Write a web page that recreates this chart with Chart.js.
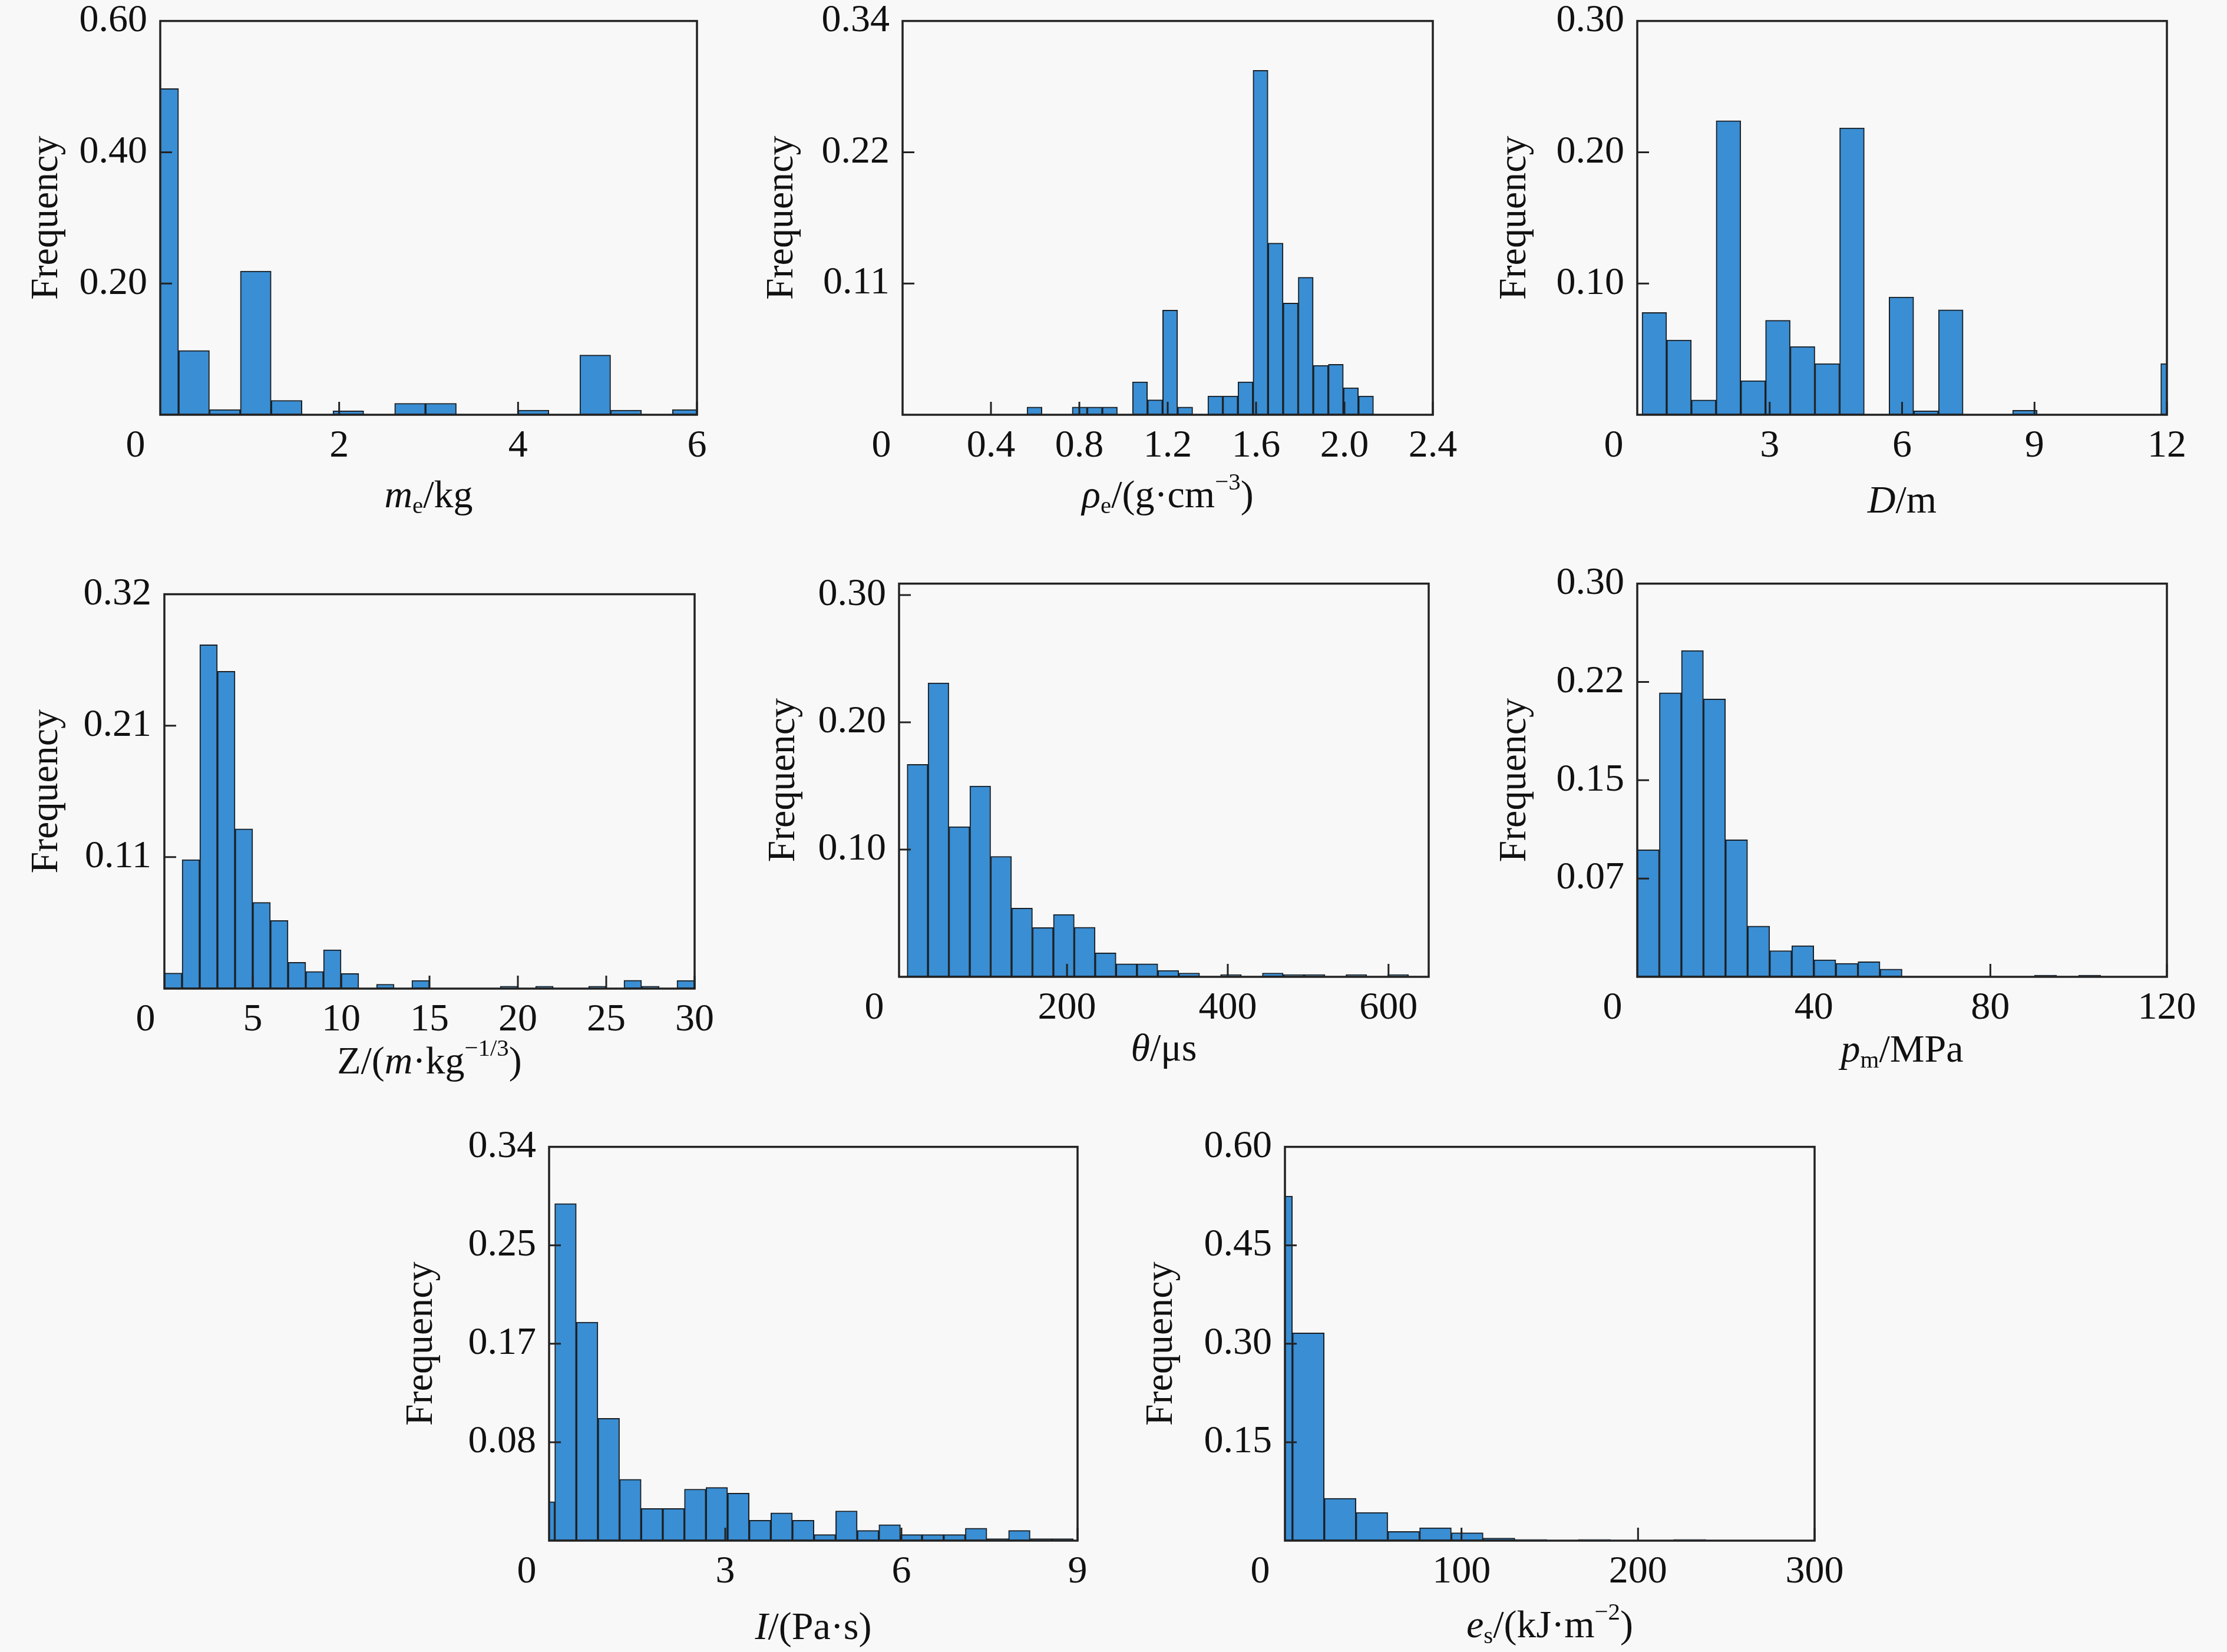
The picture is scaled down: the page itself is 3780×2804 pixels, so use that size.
<!DOCTYPE html>
<html>
<head>
<meta charset="utf-8">
<script src="https://cdn.jsdelivr.net/npm/chart.js@4.4.1/dist/chart.umd.min.js"></script>
<style>
  body { margin: 0; background: #f8f8f8; width: 3780px; height: 2804px; position: relative; overflow: hidden; }
  canvas { position: absolute; }
</style>
</head>
<body>
<script>
// ---- data ----

// m_e / kg
const massBinStart = -0.14, massBinWidth = 0.345;
const massFreq = [0.497, 0.098, 0.008, 0.219, 0.022, 0, 0.006, 0, 0.0175, 0.0175, 0, 0, 0.007, 0, 0.091, 0.007, 0, 0.008];
const massXTicks = [2, 4, 6];
const massXLabels = ['2', '4', '6'];
const massYTicks = [0.2, 0.4, 0.6];
const massYLabels = ['0.20', '0.40', '0.60'];

// rho_e / (g cm^-3)
const rhoBinStart = 0.563, rhoBinWidth = 0.0682;
const rhoFreq = [0.0066, 0, 0, 0.0066, 0.0066, 0.0066, 0, 0.028, 0.0127, 0.089, 0.0066, 0, 0.016, 0.016, 0.028, 0.293, 0.146, 0.095, 0.117, 0.042, 0.043, 0.023, 0.016];
const rhoXTicks = [0.4, 0.8, 1.2, 1.6, 2.0, 2.4];
const rhoXLabels = ['0.4', '0.8', '1.2', '1.6', '2.0', '2.4'];
const rhoYTicks = [0.1117, 0.2233, 0.335];
const rhoYLabels = ['0.11', '0.22', '0.34'];

// D / m
const distBinStart = 0.107, distBinWidth = 0.5597;
const distFreq = [0.078, 0.057, 0.0113, 0.224, 0.026, 0.072, 0.052, 0.039, 0.2186, 0, 0.0897, 0.003, 0.080, 0, 0, 0.0034, 0, 0, 0, 0, 0, 0.039];
const distXTicks = [3, 6, 9, 12];
const distXLabels = ['3', '6', '9', '12'];
const distYTicks = [0.1, 0.2, 0.3];
const distYLabels = ['0.10', '0.20', '0.30'];

// Z / (m kg^-1/3)
const zBinStart = 0, zBinWidth = 1;
const zFreq = [0.0126, 0.1047, 0.279, 0.2575, 0.1296, 0.070, 0.0553, 0.0214, 0.014, 0.0315, 0.0123, 0, 0.0036, 0, 0.0066, 0, 0, 0, 0, 0.002, 0, 0.002, 0, 0, 0.002, 0, 0.0068, 0.002, 0, 0.0066];
const zXTicks = [5, 10, 15, 20, 25, 30];
const zXLabels = ['5', '10', '15', '20', '25', '30'];
const zYTicks = [0.1067, 0.2133, 0.32];
const zYLabels = ['0.11', '0.21', '0.32'];

// theta / us
const thetaBinStart = 1, thetaBinWidth = 26;
const thetaFreq = [0.167, 0.231, 0.118, 0.150, 0.0947, 0.054, 0.0387, 0.049, 0.039, 0.0188, 0.0103, 0.0103, 0.005, 0.003, 0, 0.0018, 0, 0.003, 0.0018, 0.0018, 0, 0.0018, 0, 0.0018, 0];
const thetaXTicks = [200, 400, 600];
const thetaXLabels = ['200', '400', '600'];
const thetaYTicks = [0.1, 0.2, 0.3];
const thetaYLabels = ['0.10', '0.20', '0.30'];

// p_m / MPa
const pBinStart = 0, pBinWidth = 5;
const pFreq = [0.097, 0.2167, 0.249, 0.212, 0.1046, 0.0387, 0.020, 0.0238, 0.013, 0.0103, 0.0115, 0.0059, 0, 0, 0, 0, 0, 0, 0.0013, 0, 0.0013, 0, 0, 0];
const pXTicks = [40, 80, 120];
const pXLabels = ['40', '80', '120'];
const pYTicks = [0.075, 0.15, 0.225, 0.3];
const pYLabels = ['0.07', '0.15', '0.22', '0.30'];

// I / (Pa s)
const impBinStart = -0.272, impBinWidth = 0.368;
const impFreq = [0.0336, 0.291, 0.1887, 0.1056, 0.053, 0.0278, 0.0278, 0.0445, 0.046, 0.041, 0.0176, 0.024, 0.0176, 0.0053, 0.0257, 0.0088, 0.0138, 0.0053, 0.0053, 0.0053, 0.0108, 0.0018, 0.0088, 0.0018, 0.0018];
const impXTicks = [3, 6, 9];
const impXLabels = ['3', '6', '9'];
const impYTicks = [0.085, 0.17, 0.255, 0.34];
const impYLabels = ['0.08', '0.17', '0.25', '0.34'];

// e_s / (kJ m^-2)
const esBinStart = -13.74, esBinWidth = 18;
const esFreq = [0.525, 0.3165, 0.0645, 0.043, 0.014, 0.0196, 0.012, 0.004, 0.002, 0, 0.002, 0, 0, 0.002, 0, 0, 0];
const esXTicks = [100, 200, 300];
const esXLabels = ['100', '200', '300'];
const esYTicks = [0.15, 0.3, 0.45, 0.6];
const esYLabels = ['0.15', '0.30', '0.45', '0.60'];

// ---- styling ----
const FONT = '"Liberation Serif", "Times New Roman", serif';
const FS = 66;
const INK = '#111';
const BAR = '#3a8ed3';
const EDGE = '#1a1f24';
const PAD_L = 260, PAD_T = 60, PAD_R = 90, PAD_B = 230;

// axis titles: it = italic, sub / sup = small lowered / raised
const panels = [
  { l: 272, t: 34, w: 911, h: 670, start: massBinStart, bw: massBinWidth, freq: massFreq,
    xMin: 0, xMax: 6, xTicks: massXTicks, xLabels: massXLabels, yMax: 0.6, yTicks: massYTicks, yLabels: massYLabels,
    title: [{ t: 'm', it: 1 }, { t: 'e', sub: 1 }, { t: '/kg' }], yTitleOff: 192, xTitleOff: 140, zeroDx: -42 },
  { l: 1532, t: 34, w: 900, h: 670, start: rhoBinStart, bw: rhoBinWidth, freq: rhoFreq,
    xMin: 0, xMax: 2.4, xTicks: rhoXTicks, xLabels: rhoXLabels, yMax: 0.335, yTicks: rhoYTicks, yLabels: rhoYLabels,
    title: [{ t: 'ρ', it: 1 }, { t: 'e', sub: 1 }, { t: '/(g·cm' }, { t: '−3', sup: 1 }, { t: ')' }], yTitleOff: 204, xTitleOff: 140, zeroDx: -36 },
  { l: 2779, t: 34, w: 899, h: 670, start: distBinStart, bw: distBinWidth, freq: distFreq,
    xMin: 0, xMax: 12, xTicks: distXTicks, xLabels: distXLabels, yMax: 0.3, yTicks: distYTicks, yLabels: distYLabels,
    title: [{ t: 'D', it: 1 }, { t: '/m' }], yTitleOff: 207, xTitleOff: 149, zeroDx: -40 },
  { l: 279, t: 1007, w: 900, h: 671, start: zBinStart, bw: zBinWidth, freq: zFreq,
    xMin: 0, xMax: 30, xTicks: zXTicks, xLabels: zXLabels, yMax: 0.32, yTicks: zYTicks, yLabels: zYLabels,
    title: [{ t: 'Z/(' }, { t: 'm', it: 1 }, { t: '·kg' }, { t: '−1/3', sup: 1 }, { t: ')' }], yTitleOff: 199, xTitleOff: 127, zeroDx: -32 },
  { l: 1526, t: 989, w: 899, h: 669, start: thetaBinStart, bw: thetaBinWidth, freq: thetaFreq,
    xMin: -9, xMax: 650, xTicks: thetaXTicks, xLabels: thetaXLabels, yMax: 0.309, yTicks: thetaYTicks, yLabels: thetaYLabels,
    title: [{ t: 'θ', it: 1 }, { t: '/μs' }], yTitleOff: 195, xTitleOff: 125, zeroDx: -42 },
  { l: 2779, t: 989, w: 899, h: 669, start: pBinStart, bw: pBinWidth, freq: pFreq,
    xMin: 0, xMax: 120, xTicks: pXTicks, xLabels: pXLabels, yMax: 0.3, yTicks: pYTicks, yLabels: pYLabels,
    title: [{ t: 'p', it: 1 }, { t: 'm', sub: 1 }, { t: '/MPa' }], yTitleOff: 207, xTitleOff: 127, zeroDx: -42 },
  { l: 932, t: 1945, w: 897, h: 670, start: impBinStart, bw: impBinWidth, freq: impFreq,
    xMin: 0, xMax: 9, xTicks: impXTicks, xLabels: impXLabels, yMax: 0.34, yTicks: impYTicks, yLabels: impYLabels,
    title: [{ t: 'I', it: 1 }, { t: '/(Pa·s)' }], yTitleOff: 216, xTitleOff: 150, zeroDx: -38 },
  { l: 2181, t: 1945, w: 899, h: 670, start: esBinStart, bw: esBinWidth, freq: esFreq,
    xMin: 0, xMax: 300, xTicks: esXTicks, xLabels: esXLabels, yMax: 0.6, yTicks: esYTicks, yLabels: esYLabels,
    title: [{ t: 'e', it: 1 }, { t: 's', sub: 1 }, { t: '/(kJ·m' }, { t: '−2', sup: 1 }, { t: ')' }], yTitleOff: 209, xTitleOff: 147, zeroDx: -42 }
];

function binPoints(start, width, freq) {
  return freq.map((f, k) => ({ x: start + width * (k + 0.5), y: f }));
}

function drawRich(ctx, parts, cx, cy) {
  let total = 0;
  const items = parts.map(p => {
    const size = (p.sub || p.sup) ? FS * 0.62 : FS;
    const font = (p.it ? 'italic ' : '') + size + 'px ' + FONT;
    ctx.font = font;
    const w = ctx.measureText(p.t).width;
    total += w;
    return { t: p.t, font, w, dy: p.sub ? FS * 0.24 : (p.sup ? -FS * 0.36 : 0) };
  });
  let x = cx - total / 2;
  ctx.textAlign = 'left';
  ctx.textBaseline = 'middle';
  items.forEach(it => {
    ctx.font = it.font;
    ctx.fillText(it.t, x, cy + it.dy);
    x += it.w;
  });
}

// inward tick marks, box frame, origin "0" and x title
function decor(p) {
  return {
    id: 'decor',
    afterDatasetsDraw(chart) {
      const { ctx, chartArea: a, scales } = chart;
      const xs = scales.x, ys = scales.y;
      ctx.save();
      ctx.strokeStyle = '#222';
      ctx.lineWidth = 3;
      ctx.beginPath();
      p.xTicks.forEach(v => {
        const px = xs.getPixelForValue(v);
        ctx.moveTo(px, a.bottom);
        ctx.lineTo(px, a.bottom - 22);
      });
      p.yTicks.forEach(v => {
        const py = ys.getPixelForValue(v);
        ctx.moveTo(a.left, py);
        ctx.lineTo(a.left + 20, py);
      });
      ctx.stroke();
      ctx.lineWidth = 3.5;
      ctx.strokeRect(a.left, a.top, a.right - a.left, a.bottom - a.top);

      ctx.fillStyle = INK;
      ctx.font = FS + 'px ' + FONT;
      ctx.textAlign = 'center';
      ctx.textBaseline = 'middle';
      ctx.fillText('0', a.left + p.zeroDx, a.bottom + 14 + FS * 0.6);

      drawRich(ctx, p.title, (a.left + a.right) / 2, a.bottom + p.xTitleOff);
      ctx.restore();
    }
  };
}

panels.forEach(p => {
  const canvas = document.createElement('canvas');
  canvas.width = p.w + PAD_L + PAD_R;
  canvas.height = p.h + PAD_T + PAD_B;
  canvas.style.left = (p.l - PAD_L) + 'px';
  canvas.style.top = (p.t - PAD_T) + 'px';
  canvas.style.width = canvas.width + 'px';
  canvas.style.height = canvas.height + 'px';
  document.body.appendChild(canvas);

  new Chart(canvas, {
    type: 'bar',
    data: {
      datasets: [{
        data: binPoints(p.start, p.bw, p.freq),
        backgroundColor: BAR,
        borderColor: EDGE,
        borderWidth: 2,
        borderSkipped: false,
        barPercentage: 1,
        categoryPercentage: 1,
        clip: 0
      }]
    },
    options: {
      responsive: false,
      animation: false,
      devicePixelRatio: 1,
      layout: { padding: { top: PAD_T, right: PAD_R, left: 0, bottom: 0 } },
      plugins: { legend: { display: false }, tooltip: { enabled: false } },
      scales: {
        x: {
          type: 'linear',
          min: p.xMin,
          max: p.xMax,
          offset: false,
          grid: { display: false, drawTicks: false },
          border: { display: false },
          afterBuildTicks: s => { s.ticks = p.xTicks.map(v => ({ value: v })); },
          afterFit: s => { s.height = PAD_B; },
          ticks: {
            autoSkip: false, maxRotation: 0, padding: 14, color: INK,
            font: { family: FONT, size: FS, lineHeight: 1.2 },
            callback: (v, i) => p.xLabels[i]
          }
        },
        y: {
          min: 0,
          max: p.yMax,
          grid: { display: false, drawTicks: false },
          border: { display: false },
          afterBuildTicks: s => { s.ticks = p.yTicks.map(v => ({ value: v })); },
          afterFit: s => { s.width = PAD_L; },
          ticks: {
            autoSkip: false, padding: 22, color: INK,
            font: { family: FONT, size: FS, lineHeight: 1.2 },
            callback: (v, i) => p.yLabels[i]
          },
          title: {
            display: true,
            text: 'Frequency',
            color: INK,
            font: { family: FONT, size: FS, lineHeight: 1.2 },
            padding: { top: PAD_L - p.yTitleOff - FS * 0.6, bottom: 0 }
          }
        }
      }
    },
    plugins: [decor(p)]
  });
});
</script>
</body>
</html>
